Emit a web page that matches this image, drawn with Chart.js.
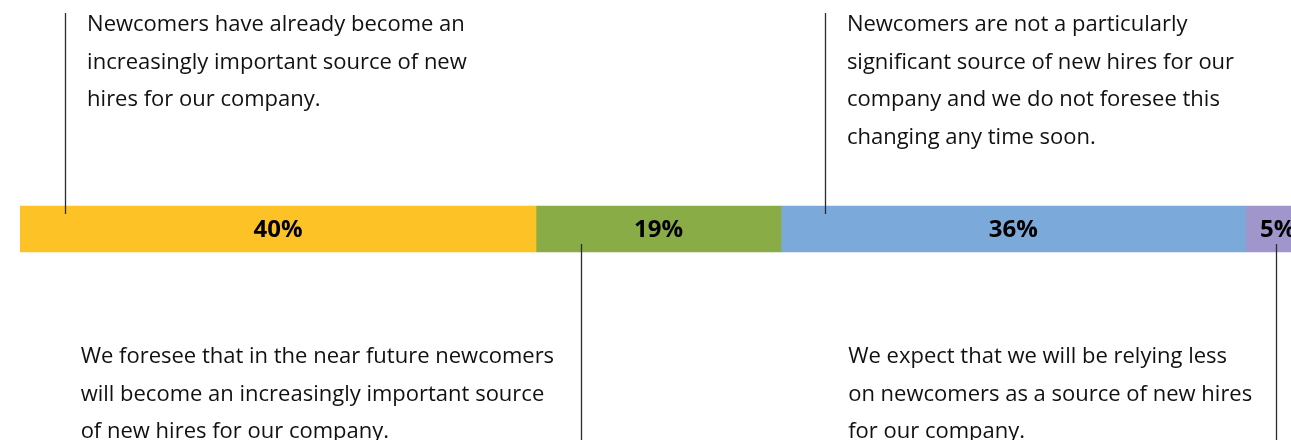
<!DOCTYPE html>
<html>
<head>
<meta charset="utf-8">
<script src="https://cdn.jsdelivr.net/npm/chart.js@4.4.1/dist/chart.umd.min.js"></script>
<style>
    html, body { margin: 0; padding: 0; background: #ffffff; overflow: hidden; }
    #wrap { position: relative; width: 1310px; height: 440px; }
</style>
</head>
<body>
<div id="wrap"><canvas id="newcomersChart"></canvas></div>
<script>
// Data
const categories = ['Newcomers as a source of new hires'];
const seriesLabels = ['Already important', 'Important in near future', 'Not significant', 'Relying less'];
const seriesValues = [40, 19, 36, 5];
const seriesColors = ['#FDC326', '#8AAC46', '#7BA9DA', '#A096CB'];

// Callouts: anchor is a value on the % axis, text starts at textAt (also % axis)
const calloutText = [
    ['Newcomers have already become an', 'increasingly important source of new', 'hires for our company.'],
    ['We foresee that in the near future newcomers', 'will become an increasingly important source', 'of new hires for our company.'],
    ['Newcomers are not a particularly', 'significant source of new hires for our', 'company and we do not foresee this', 'changing any time soon.'],
    ['We expect that we will be relying less', 'on newcomers as a source of new hires', 'for our company.']
];
const calloutAnchor = [3.5, 43.5, 62.4, 97.4];
const calloutTextAt = [5.2, 4.7, 64.1, 64.2];
const calloutSide = ['top', 'bottom', 'top', 'bottom'];

const TEXT_FONT = "22px 'Open Sans', sans-serif";
const LINE_H = 37.5;

const calloutPlugin = {
    id: 'callouts',
    afterDatasetsDraw(chart) {
        const ctx = chart.ctx;
        const x = chart.scales.x;
        const bar = chart.getDatasetMeta(0).data[0];
        const top = bar.y - bar.height / 2;
        const bottom = bar.y + bar.height / 2;

        // percentage labels centred in each segment
        ctx.save();
        ctx.fillStyle = '#000000';
        ctx.font = "bold 24px 'Open Sans', sans-serif";
        ctx.textAlign = 'center';
        ctx.textBaseline = 'middle';
        chart.data.datasets.forEach((ds, i) => {
            const el = chart.getDatasetMeta(i).data[0];
            ctx.fillText(ds.data[0] + '%', (el.x + el.base) / 2, el.y + 1);
        });
        ctx.restore();

        // leader lines + text
        ctx.save();
        ctx.strokeStyle = '#2b2b2b';
        ctx.lineWidth = 1.3;
        ctx.fillStyle = '#111111';
        ctx.font = TEXT_FONT;
        ctx.textAlign = 'left';
        ctx.textBaseline = 'middle';
        calloutText.forEach((lines, i) => {
            const lx = Math.round(x.getPixelForValue(calloutAnchor[i])) + 0.5;
            const tx = x.getPixelForValue(calloutTextAt[i]);
            ctx.beginPath();
            if (calloutSide[i] === 'top') {
                ctx.moveTo(lx, 13);
                ctx.lineTo(lx, top + 8);
            } else {
                ctx.moveTo(lx, bottom - 8);
                ctx.lineTo(lx, chart.height);
            }
            ctx.stroke();
            const y0 = calloutSide[i] === 'top' ? 25 : 357;
            lines.forEach((t, k) => ctx.fillText(t, tx, y0 + k * LINE_H));
        });
        ctx.restore();
    }
};

const ctxNew = document.getElementById('newcomersChart');
new Chart(ctxNew, {
    type: 'bar',
    data: {
        labels: categories,
        datasets: seriesValues.map((v, i) => ({
            label: seriesLabels[i],
            data: [v],
            backgroundColor: seriesColors[i],
            borderWidth: 0,
            barThickness: 46
        }))
    },
    options: {
        indexAxis: 'y',
        responsive: true,
        maintainAspectRatio: false,
        animation: false,
        layout: { padding: { left: 20, right: 0, top: 18, bottom: 0 } },
        plugins: {
            legend: { display: false },
            tooltip: { enabled: false }
        },
        scales: {
            x: { stacked: true, min: 0, max: 100, display: false },
            y: { stacked: true, display: false }
        }
    },
    plugins: [calloutPlugin]
});
</script>
</body>
</html>
